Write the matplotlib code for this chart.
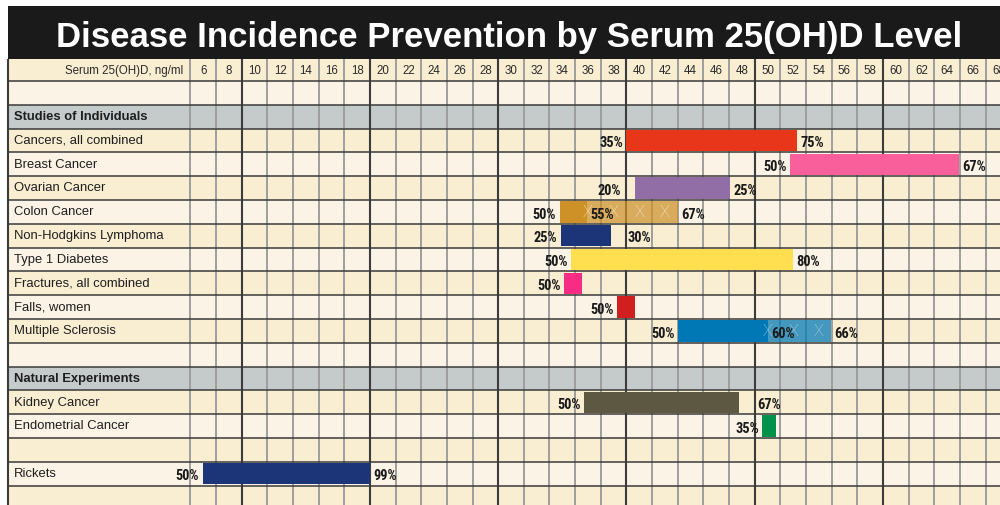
import matplotlib
matplotlib.use('Agg')
import matplotlib.pyplot as plt
from matplotlib import font_manager
from matplotlib.font_manager import FontProperties
from matplotlib.transforms import offset_copy

# ---------------- data ----------------
title = 'Disease Incidence Prevention by Serum 25(OH)D Level'
axis_caption = 'Serum 25(OH)D, ng/ml'
serum_levels = [6, 8, 10, 12, 14, 16, 18, 20, 22, 24, 26, 28, 30, 32, 34, 36, 38,
                40, 42, 44, 46, 48, 50, 52, 54, 56, 58, 60, 62, 64, 66, 68]

row_labels = ['', 'Studies of Individuals', 'Cancers, all combined', 'Breast Cancer',
              'Ovarian Cancer', 'Colon Cancer', 'Non-Hodgkins Lymphoma', 'Type 1 Diabetes',
              'Fractures, all combined', 'Falls, women', 'Multiple Sclerosis', '',
              'Natural Experiments', 'Kidney Cancer', 'Endometrial Cancer', '', 'Rickets', '']
section_rows = ['Studies of Individuals', 'Natural Experiments']

diseases = ['Cancers, all combined', 'Breast Cancer', 'Ovarian Cancer', 'Colon Cancer',
            'Non-Hodgkins Lymphoma', 'Type 1 Diabetes', 'Fractures, all combined',
            'Falls, women', 'Multiple Sclerosis', 'Kidney Cancer', 'Endometrial Cancer',
            'Rickets']
start_ng = [40.0, 52.75, 40.7, 34.8, 34.9, 35.7, 35.15, 39.3, 44.05, 36.7, 50.6, 6.95]
split_ng = [None, None, None, 36.95, None, None, None, None, 51.05, None, None, None]
end_ng = [53.3, 65.9, 48.1, 44.0, 38.8, 53.0, 36.5, 40.65, 55.95, 48.8, 51.65, 20.0]
pct_start = ['35%', '50%', '20%', '50%', '25%', '50%', '50%', '50%', '50%', '50%', '35%', '50%']
pct_split = ['', '', '', '55%', '', '', '', '', '60%', '', '', '']
pct_end = ['75%', '67%', '25%', '67%', '30%', '80%', '', '', '66%', '67%', '', '99%']
x_marks_colon = [37, 39, 41, 43]
x_marks_ms = [51, 53, 55]

# ---------------- style / layout ----------------
bar_colors = ['#E8361B', '#F9609B', '#926EA6', '#CD9128', '#1C3478', '#FFDF4F',
              '#F72C84', '#D11E1E', '#0078B6', '#5D5842', '#00914A', '#1C3478']
mark_colors = {'Colon Cancer': '#F6EBD3', 'Multiple Sclerosis': '#AFD4EC'}
TAN, LIGHT, GRAY = '#F9EDD2', '#FBF3E5', '#C5CACB'

names = {f.name for f in font_manager.fontManager.ttflist}
BODY = 'Liberation Sans' if 'Liberation Sans' in names else 'DejaVu Sans'
LIGHTF = 'Roboto' if 'Roboto' in names else BODY


def find_narrow_bold():
    keys = ['LiberationSansNarrow-Bold.', 'RobotoCondensed-Bold.', 'DejaVuSansCondensed-Bold.',
            'OpenSans_Condensed-Bold', 'OpenSansCondensed-Bold', 'NotoSans-CondensedBold',
            'Roboto_Condensed-Bold']
    files = [f.fname for f in font_manager.fontManager.ttflist]
    for k in keys:
        for fn in files:
            if k.lower() in fn.lower().replace(' ', ''):
                return fn
    return None


narrow_file = find_narrow_bold()
if narrow_file:
    pct_font = dict(fontproperties=FontProperties(fname=narrow_file, size=10.4))
else:
    pct_font = dict(family=BODY, fontweight='bold', fontsize=8.4)

W, H, DPI = 1000, 506, 100
fig = plt.figure(figsize=(W / DPI, H / DPI), dpi=DPI)
fig.patch.set_facecolor('white')

# pixel geometry of the reference grid
px10, colw = 241.7, 12.825          # pixel of 10 ng/ml, pixels per ng/ml
def px2v(p):
    return 10 + (p - px10) / colw

top_title, top_header, top_body, row_h = 7, 60, 82, 23.8
border_px = 8.5

# title band
tax = fig.add_axes([8 / W, (H - top_header) / H, 1 - 8 / W, (top_header - top_title) / H])
tax.set_facecolor('#1A1A1A')
tax.set_xticks([]); tax.set_yticks([])
for s in tax.spines.values():
    s.set_visible(False)
fig.text(509 / W, 1 - 37 / H, title, color='white', fontsize=25, fontweight='bold',
         family=BODY, ha='center', va='center')

ax = fig.add_axes([0, 0, 1, (H - top_header) / H])
x0, x1 = px2v(0), px2v(W)
y_top = -(top_body - top_header) / row_h
y_bot = (H - top_body) / row_h
ax.set_xlim(x0, x1)
ax.set_ylim(y_bot, y_top)
ax.axis('off')
xb = px2v(border_px)

# row backgrounds
xfrac = border_px / W
ax.axhspan(y_top, 0, xmin=xfrac, xmax=1, color=TAN, lw=0, zorder=0)
shade_next = LIGHT
for i, lab in enumerate(row_labels):
    if lab in section_rows:
        c = GRAY
        shade_next = TAN
    else:
        c = shade_next
        shade_next = LIGHT if c == TAN else TAN
    ax.axhspan(i, i + 1, xmin=xfrac, xmax=1, color=c, lw=0, zorder=0)

# vertical grid
for v in serum_levels + [serum_levels[-1] + 2]:
    if v % 10 == 0:
        ax.axvline(v, color='#3C3C3C', lw=1.5, zorder=1)
    else:
        ax.axvline(v, color='#9E9E9E', lw=1.4, zorder=1)
ax.axvline(xb, color='#3C3C3C', lw=1.5, zorder=1)

# horizontal grid
for i in range(len(row_labels) + 1):
    ax.hlines(i, xb, x1, color='#3A3A3A', lw=1.1, zorder=1)

# header texts
ax.text(px2v(183), y_top / 2, axis_caption, ha='right', va='center', fontsize=8.3,
        family=BODY, color='#2A2A2A', zorder=5)
for v in serum_levels:
    ax.text(v + 1, y_top / 2, str(v), ha='center', va='center', fontsize=8.3,
            family=BODY, color='#2A2A2A', zorder=5)

# row labels
for i, lab in enumerate(row_labels):
    if not lab:
        continue
    ax.text(px2v(14), i + 0.47, lab, ha='left', va='center', fontsize=9.4, family=BODY,
            fontweight='bold' if lab in section_rows else 'normal', color='#1E1E1E', zorder=5)

# bars
extra_start_gap = {'Ovarian Cancer': 11}
extra_end_gap = {'Non-Hodgkins Lymphoma': 12.5, 'Kidney Cancer': 14.5}
pct_kw = dict(color='#1A1A1A', zorder=6, **pct_font)
for d, s, m, e, ps, pm, pe, c in zip(diseases, start_ng, split_ng, end_ng,
                                      pct_start, pct_split, pct_end, bar_colors):
    r = row_labels.index(d) + 0.5
    if m is None:
        ax.barh(r, e - s, left=s, height=0.9, color=c, lw=0, zorder=3)
    else:
        ax.barh(r, m - s, left=s, height=0.9, color=c, lw=0, zorder=3)
        ax.barh(r, e - m, left=m, height=0.9, color=c, alpha=0.72, lw=0, zorder=2)
        tr = offset_copy(ax.transData, fig=fig, x=3, y=0, units='dots')
        ax.text(m, r + 0.07, pm, ha='left', va='center', transform=tr, **pct_kw)
    tr = offset_copy(ax.transData, fig=fig, x=-(3.5 + extra_start_gap.get(d, 0)), y=0,
                     units='dots')
    ax.text(s, r + 0.07, ps, ha='right', va='center', transform=tr, **pct_kw)
    if pe:
        tr = offset_copy(ax.transData, fig=fig, x=3.5 + extra_end_gap.get(d, 0), y=0,
                         units='dots')
        ax.text(e, r + 0.07, pe, ha='left', va='center', transform=tr, **pct_kw)

# "X" marks on the lighter segments
for d, xs in (('Colon Cancer', x_marks_colon), ('Multiple Sclerosis', x_marks_ms)):
    r = row_labels.index(d) + 0.5
    for xm in xs:
        ax.text(xm, r, 'X', ha='center', va='center', fontsize=12, family=LIGHTF,
                fontweight='light', color=mark_colors[d], alpha=0.95, zorder=4)

fig.savefig('out.png', dpi=DPI)
